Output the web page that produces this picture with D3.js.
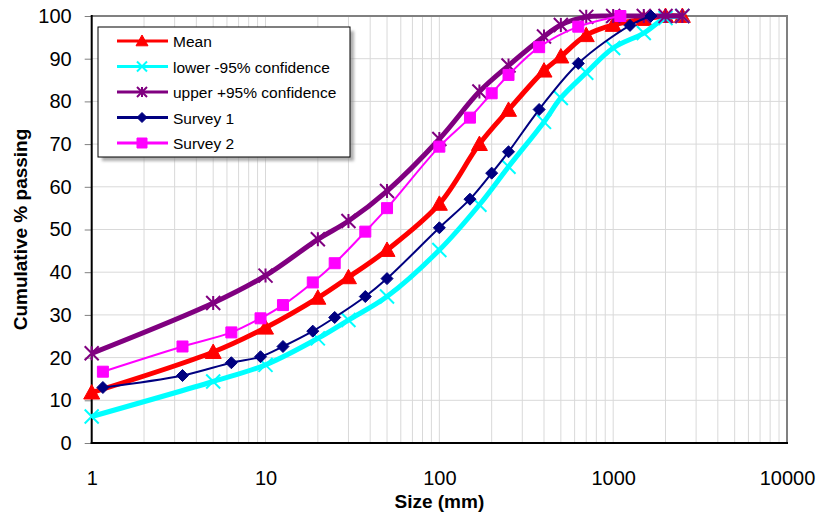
<!DOCTYPE html>
<html>
<head>
<meta charset="utf-8">
<script src="https://cdn.jsdelivr.net/npm/d3@7"></script>
<style>
  html, body { margin: 0; padding: 0; background: #fff; }
  svg { display: block; font-family: "Liberation Sans", Arial, sans-serif; }
</style>
</head>
<body>
<svg id="chart" width="821" height="518"></svg>
<script>
// Particle size distribution: cumulative % passing vs size (mm)
const statSize   = [1, 5, 10, 20, 30, 50, 100, 170, 250, 400, 500, 700, 1000, 1500, 2000, 2500];
const meanPass   = [11.8, 21.3, 27, 34, 38.8, 45.2, 56, 70, 78, 87.2, 90.5, 95.5, 97.9, 99.3, 100, 100];
const lowerPass  = [6.2, 14.4, 18.3, 24.5, 28.8, 34.3, 45.2, 55.8, 64.7, 75.2, 80.8, 86.7, 92.5, 96, 99.5, 100];
const upperPass  = [21, 32.8, 39.2, 47.7, 52, 59, 71.2, 82.3, 88.4, 95.2, 97.9, 99.8, 100, 100, 100, 100];

const survey1Size = [1.16, 3.33, 6.36, 9.36, 12.6, 18.7, 25, 37.5, 50, 100, 150, 200, 250, 375, 630, 1250, 1650];
const survey1Pass = [13, 15.8, 18.8, 20.2, 22.6, 26.2, 29.4, 34.3, 38.5, 50.4, 57.1, 63.2, 68.2, 78.1, 88.9, 97.8, 100];
const survey2Size = [1.16, 3.33, 6.36, 9.36, 12.6, 18.7, 25, 37.5, 50, 100, 150, 200, 250, 375, 630, 1100];
const survey2Pass = [16.7, 22.6, 25.9, 29.2, 32.3, 37.6, 42.1, 49.5, 55, 69.4, 76.2, 81.9, 86.2, 92.7, 97.5, 100];

const xTickValues = [1, 10, 100, 1000, 10000];
const yTickValues = [0, 10, 20, 30, 40, 50, 60, 70, 80, 90, 100];

const seriesNames = ["Mean", "lower -95% confidence", "upper +95% confidence", "Survey 1", "Survey 2"];

const series = [
  { name: seriesNames[0], xs: statSize, ys: meanPass,  color: "#FF0000", width: 5,   marker: "triangle", size: 8 },
  { name: seriesNames[1], xs: statSize, ys: lowerPass, color: "#00FFFF", width: 5,   marker: "x",        size: 7 },
  { name: seriesNames[2], xs: statSize, ys: upperPass, color: "#800080", width: 5,   marker: "star",     size: 7 },
  { name: seriesNames[3], xs: survey1Size, ys: survey1Pass, color: "#000080", width: 2, marker: "diamond", size: 6 },
  { name: seriesNames[4], xs: survey2Size, ys: survey2Pass, color: "#FF00FF", width: 2, marker: "square",  size: 5.5 }
];

const plotL = 91.7, plotR = 787, plotT = 16, plotB = 443;
const svg = d3.select("#chart");

const x = d3.scaleLog().domain([1, 10000]).range([plotL, plotR]);
const y = d3.scaleLinear().domain([0, 100]).range([plotB, plotT]);

// gridlines
const grid = svg.append("g");
const minor = [];
for (let e = 0; e < 4; e++) for (let m = 1; m <= 9; m++) minor.push(m * Math.pow(10, e));
minor.push(10000);
grid.selectAll("line.v").data(minor).join("line")
  .attr("x1", d => x(d)).attr("x2", d => x(d))
  .attr("y1", plotT).attr("y2", plotB)
  .attr("stroke", "#d9d9d9").attr("stroke-width", 1);
grid.selectAll("line.h").data(yTickValues).join("line")
  .attr("x1", plotL).attr("x2", plotR)
  .attr("y1", d => y(d)).attr("y2", d => y(d))
  .attr("stroke", "#d9d9d9").attr("stroke-width", 1);

// plot frame: grey top/right, black axes
svg.append("line").attr("x1", plotL).attr("x2", plotR + 1).attr("y1", plotT).attr("y2", plotT)
  .attr("stroke", "#808080").attr("stroke-width", 2);
svg.append("line").attr("x1", plotR).attr("x2", plotR).attr("y1", plotT).attr("y2", plotB)
  .attr("stroke", "#808080").attr("stroke-width", 2);

// y axis ticks + labels
const yAxis = d3.axisLeft(y).tickValues(yTickValues).tickSize(7).tickPadding(13).tickFormat(d3.format("d"));
const gy = svg.append("g").attr("transform", `translate(${plotL},0)`).call(yAxis);
gy.select(".domain").remove();
gy.selectAll(".tick line").attr("stroke", "#808080");
gy.selectAll(".tick text").attr("font-size", 20).attr("fill", "#000")
  .attr("font-family", "Liberation Sans, Arial, sans-serif");

// x axis labels
const xAxis = d3.axisBottom(x).tickValues(xTickValues).tickSize(0).tickPadding(28).tickFormat(d3.format("d"));
const gx = svg.append("g").attr("transform", `translate(0,${plotB})`).call(xAxis);
gx.select(".domain").remove();
gx.selectAll(".tick text").attr("font-size", 20).attr("fill", "#000")
  .attr("font-family", "Liberation Sans, Arial, sans-serif");

svg.append("line").attr("x1", plotL).attr("x2", plotL).attr("y1", plotT - 1).attr("y2", plotB + 1)
  .attr("stroke", "#000").attr("stroke-width", 2);
svg.append("line").attr("x1", plotL - 1).attr("x2", plotR + 1).attr("y1", plotB).attr("y2", plotB)
  .attr("stroke", "#000").attr("stroke-width", 2);

// axis titles
svg.append("text").attr("x", (plotL + plotR) / 2).attr("y", 508)
  .attr("text-anchor", "middle").attr("font-size", 19).attr("font-weight", "bold")
  .text("Size (mm)");
svg.append("text").attr("transform", `translate(27,${(plotT + plotB) / 2}) rotate(-90)`)
  .attr("text-anchor", "middle").attr("font-size", 19).attr("font-weight", "bold")
  .text("Cumulative % passing");

// marker shapes
function markerPath(type, s) {
  switch (type) {
    case "triangle": return `M0,${-s}L${s * 1.0},${s * 0.8}L${-s * 1.0},${s * 0.8}Z`;
    case "x":        return `M${-s},${-s}L${s},${s}M${-s},${s}L${s},${-s}`;
    case "star":     return `M${-s},${-s}L${s},${s}M${-s},${s}L${s},${-s}M0,${-s}L0,${s}`;
    case "diamond":  return `M0,${-s}L${s},0L0,${s}L${-s},0Z`;
    case "square":   return `M${-s},${-s}H${s}V${s}H${-s}Z`;
  }
}
function styleMarker(sel, s) {
  const filled = s.marker === "triangle" || s.marker === "diamond" || s.marker === "square";
  sel.attr("d", markerPath(s.marker, s.size))
    .attr("fill", filled ? s.color : "none")
    .attr("stroke", s.color)
    .attr("stroke-width", filled ? 1 : 2);
}

const line = d3.line().x(d => x(d[0])).y(d => y(d[1])).curve(d3.curveCatmullRom.alpha(0.5));

const plot = svg.append("g");
series.forEach(s => {
  const pts = s.xs.map((v, i) => [v, s.ys[i]]);
  const g = plot.append("g");
  g.append("path").datum(pts).attr("d", line)
    .attr("fill", "none").attr("stroke", s.color).attr("stroke-width", s.width)
    .attr("stroke-linejoin", "round");
  g.selectAll("path.m").data(pts).join("path").attr("class", "m")
    .attr("transform", d => `translate(${x(d[0])},${y(d[1])})`)
    .call(sel => styleMarker(sel, s));
});

// legend
const defs = svg.append("defs");
defs.append("filter").attr("id", "shadowBlur").append("feGaussianBlur").attr("stdDeviation", 1.5);
const lg = svg.append("g").attr("transform", "translate(98,27)");
lg.append("rect").attr("x", 4).attr("y", 4).attr("width", 252).attr("height", 130)
  .attr("fill", "#8c8c8c").attr("opacity", 0.7).attr("filter", "url(#shadowBlur)");
lg.append("rect").attr("width", 252).attr("height", 130).attr("fill", "#fff")
  .attr("stroke", "#000").attr("stroke-width", 1);
series.forEach((s, i) => {
  const cy = 14 + i * 25.5;
  const row = lg.append("g").attr("transform", `translate(0,${cy})`);
  row.append("line").attr("x1", 19).attr("x2", 70).attr("y1", 0).attr("y2", 0)
    .attr("stroke", s.color).attr("stroke-width", 3);
  row.append("path").attr("transform", "translate(44,0)")
    .call(sel => styleMarker(sel, Object.assign({}, s, { size: s.marker === "triangle" ? 6 : 5 })));
  row.append("text").attr("x", 75).attr("y", 6).attr("font-size", 15.5).attr("fill", "#000")
    .text(s.name);
});
</script>
</body>
</html>
